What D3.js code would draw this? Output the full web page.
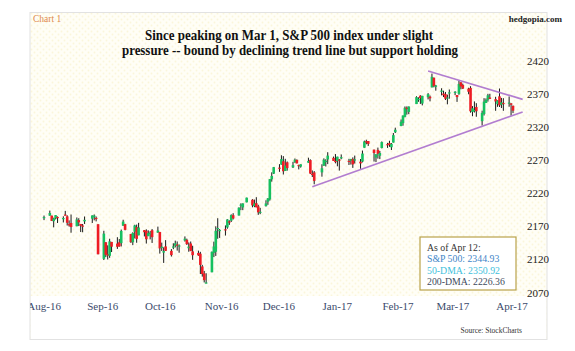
<!DOCTYPE html>
<html><head><meta charset="utf-8">
<script src="https://cdn.jsdelivr.net/npm/d3@7"></script>
<style>body{margin:0;background:#fff}svg{display:block}</style>
</head><body>
<script>
const dates = ["2016-08-12","2016-08-15","2016-08-16","2016-08-17","2016-08-18","2016-08-19","2016-08-22","2016-08-23","2016-08-24","2016-08-25","2016-08-26","2016-08-29","2016-08-30","2016-08-31",
"2016-09-01","2016-09-02","2016-09-06","2016-09-07","2016-09-08","2016-09-09","2016-09-12","2016-09-13","2016-09-14","2016-09-15","2016-09-16","2016-09-19","2016-09-20","2016-09-21","2016-09-22","2016-09-23","2016-09-26","2016-09-27","2016-09-28","2016-09-29","2016-09-30",
"2016-10-03","2016-10-04","2016-10-05","2016-10-06","2016-10-07","2016-10-10","2016-10-11","2016-10-12","2016-10-13","2016-10-14","2016-10-17","2016-10-18","2016-10-19","2016-10-20","2016-10-21","2016-10-24","2016-10-25","2016-10-26","2016-10-27","2016-10-28","2016-10-31",
"2016-11-01","2016-11-02","2016-11-03","2016-11-04","2016-11-07","2016-11-08","2016-11-09","2016-11-10","2016-11-11","2016-11-14","2016-11-15","2016-11-16","2016-11-17","2016-11-18","2016-11-21","2016-11-22","2016-11-23","2016-11-25","2016-11-28","2016-11-29","2016-11-30",
"2016-12-01","2016-12-02","2016-12-05","2016-12-06","2016-12-07","2016-12-08","2016-12-09","2016-12-12","2016-12-13","2016-12-14","2016-12-15","2016-12-16","2016-12-19","2016-12-20","2016-12-21","2016-12-22","2016-12-23","2016-12-27","2016-12-28","2016-12-29","2016-12-30",
"2017-01-03","2017-01-04","2017-01-05","2017-01-06","2017-01-09","2017-01-10","2017-01-11","2017-01-12","2017-01-13","2017-01-17","2017-01-18","2017-01-19","2017-01-20","2017-01-23","2017-01-24","2017-01-25","2017-01-26","2017-01-27","2017-01-30","2017-01-31",
"2017-02-01","2017-02-02","2017-02-03","2017-02-06","2017-02-07","2017-02-08","2017-02-09","2017-02-10","2017-02-13","2017-02-14","2017-02-15","2017-02-16","2017-02-17","2017-02-21","2017-02-22","2017-02-23","2017-02-24","2017-02-27","2017-02-28",
"2017-03-01","2017-03-02","2017-03-03","2017-03-06","2017-03-07","2017-03-08","2017-03-09","2017-03-10","2017-03-13","2017-03-14","2017-03-15","2017-03-16","2017-03-17","2017-03-20","2017-03-21","2017-03-22","2017-03-23","2017-03-24","2017-03-27","2017-03-28","2017-03-29","2017-03-30","2017-03-31",
"2017-04-03","2017-04-04","2017-04-05","2017-04-06","2017-04-07","2017-04-10","2017-04-11","2017-04-12"];
const open = [2183.7,2186.1,2186.2,2177.8,2181.9,2184.2,2181.6,2187.8,2185.1,2173.3,2175.1,2170.2,2179.5,2173.6,
2171.3,2177.5,2181.6,2185.2,2182.8,2173.2,2120.9,2146.0,2127.9,2125.4,2146.5,2144.0,2145.9,2144.6,2170.9,2173.3,2158.5,2146.0,2161.9,2168.9,2156.5,
2164.3,2163.4,2155.2,2158.2,2164.2,2160.4,2161.4,2137.7,2130.3,2139.7,2132.9,2138.3,2140.8,2142.5,2139.4,2148.5,2149.7,2137.0,2144.1,2132.2,2129.8,
2128.7,2109.4,2098.8,2083.8,2100.6,2129.9,2131.6,2167.5,2162.7,2165.6,2168.3,2177.5,2178.6,2186.9,2186.4,2201.6,2198.6,2206.3,2210.2,2200.8,2205.0,
2200.2,2191.1,2200.6,2207.3,2210.7,2241.1,2249.7,2258.8,2263.3,2268.4,2253.8,2266.8,2259.2,2266.5,2270.5,2262.9,2260.3,2266.2,2270.2,2249.5,2251.6,
2251.6,2261.6,2268.2,2271.1,2273.6,2269.0,2268.6,2271.1,2272.7,2269.1,2269.1,2271.9,2270.0,2267.8,2267.9,2288.9,2298.6,2299.0,2286.0,2274.0,
2285.6,2276.7,2288.5,2294.3,2295.9,2289.6,2296.7,2312.3,2321.7,2326.1,2335.6,2349.6,2343.0,2354.9,2361.1,2367.5,2355.7,2365.2,2366.1,
2380.1,2394.8,2380.9,2375.2,2370.7,2369.8,2363.5,2372.5,2371.6,2368.6,2370.3,2387.7,2383.7,2378.2,2379.3,2343.0,2346.0,2350.4,2329.1,2339.8,2356.5,2361.3,2364.8,
2362.3,2354.8,2366.6,2353.8,2356.6,2357.2,2356.0,2352.2];
const high = [2186.3,2193.8,2186.2,2183.1,2187.0,2185.0,2185.2,2193.4,2186.7,2179.0,2187.9,2183.5,2182.3,2173.6,
2173.6,2184.9,2186.6,2187.9,2184.9,2173.2,2163.3,2146.0,2141.3,2151.3,2146.5,2153.6,2150.8,2165.1,2180.0,2173.8,2158.5,2161.1,2172.4,2172.7,2175.3,
2164.4,2165.5,2164.0,2162.9,2165.9,2169.6,2161.6,2145.4,2138.2,2149.2,2135.6,2144.4,2148.4,2147.2,2142.6,2154.8,2151.4,2145.7,2147.1,2140.7,2133.3,
2131.5,2111.8,2102.6,2099.1,2132.0,2146.9,2170.1,2182.3,2165.9,2171.4,2180.8,2179.2,2188.1,2189.9,2198.7,2204.8,2204.7,2213.4,2211.1,2210.5,2214.1,
2202.6,2198.0,2209.4,2212.8,2241.6,2251.7,2259.8,2264.0,2277.5,2276.2,2272.1,2268.1,2267.5,2272.6,2271.2,2263.2,2263.8,2273.8,2271.3,2254.5,2253.6,
2263.9,2272.8,2271.5,2282.1,2275.5,2279.3,2275.3,2271.8,2278.7,2272.1,2272.0,2274.3,2277.0,2271.8,2284.6,2299.6,2301.0,2299.0,2286.0,2279.1,
2289.1,2284.0,2298.3,2296.2,2299.4,2295.9,2311.1,2319.2,2331.6,2337.6,2351.3,2351.3,2351.2,2366.7,2365.1,2368.3,2367.3,2371.5,2367.8,
2401.0,2394.8,2383.9,2378.8,2375.1,2373.1,2369.1,2376.9,2374.4,2368.6,2390.0,2388.1,2385.7,2379.6,2381.9,2351.8,2358.9,2356.2,2344.9,2363.8,2363.4,2370.4,2370.4,
2365.9,2360.5,2378.4,2364.2,2363.8,2366.4,2356.2,2352.7];
const low = [2179.4,2186.1,2178.1,2168.5,2180.5,2175.1,2175.9,2186.8,2171.3,2169.7,2160.4,2170.2,2170.4,2161.4,
2161.1,2173.6,2175.1,2179.1,2177.5,2127.8,2119.1,2123.6,2119.9,2122.4,2131.2,2135.9,2139.2,2139.6,2170.9,2164.0,2145.0,2141.6,2151.8,2145.2,2156.5,
2154.8,2144.0,2155.2,2150.3,2144.9,2160.4,2128.8,2132.8,2114.7,2133.0,2124.4,2135.5,2138.2,2133.4,2130.1,2146.9,2141.9,2131.6,2132.5,2119.4,2125.5,
2097.9,2094.0,2085.2,2083.8,2100.6,2123.6,2125.3,2151.2,2152.5,2156.1,2166.4,2172.2,2176.6,2180.4,2186.4,2194.5,2194.5,2206.3,2198.8,2199.0,2198.8,
2187.4,2188.4,2200.0,2202.5,2208.9,2237.6,2249.2,2252.4,2263.3,2248.4,2253.8,2254.2,2258.2,2266.2,2265.2,2256.1,2258.8,2266.2,2249.1,2244.6,2233.6,
2245.1,2261.6,2260.5,2264.1,2268.8,2265.3,2260.8,2254.3,2271.5,2262.8,2263.4,2258.4,2265.0,2257.0,2266.7,2288.9,2294.1,2291.6,2268.0,2267.2,
2272.4,2271.7,2287.9,2288.6,2290.2,2285.4,2296.6,2311.1,2321.4,2322.2,2334.8,2338.9,2339.6,2354.9,2358.3,2355.1,2352.9,2361.9,2359.0,
2380.1,2380.2,2375.1,2368.0,2365.5,2361.0,2354.5,2363.0,2368.5,2358.2,2368.9,2377.2,2377.6,2369.7,2341.9,2336.5,2342.1,2335.7,2322.3,2337.6,2356.5,2358.6,2362.6,
2344.7,2350.7,2350.5,2348.9,2344.7,2350.9,2337.3,2341.2];
const close = [2184.1,2190.2,2178.2,2182.2,2187.0,2183.9,2182.6,2186.9,2175.4,2172.5,2169.0,2180.4,2176.1,2170.9,
2170.9,2179.9,2186.5,2186.2,2181.3,2127.8,2159.0,2127.0,2125.8,2147.3,2139.2,2139.1,2139.8,2163.1,2177.2,2164.7,2146.1,2159.9,2171.4,2151.1,2168.3,
2161.2,2150.5,2159.7,2160.8,2153.7,2163.7,2136.7,2139.2,2132.6,2133.0,2126.5,2139.6,2144.3,2141.3,2141.2,2151.3,2143.2,2139.4,2133.0,2126.4,2126.2,
2111.7,2097.9,2088.7,2085.2,2131.5,2139.6,2163.3,2167.5,2164.5,2164.2,2180.4,2176.9,2187.1,2181.9,2198.2,2202.9,2204.7,2213.4,2201.7,2204.7,2198.8,
2191.1,2192.0,2204.7,2212.2,2241.4,2246.2,2259.5,2257.0,2271.7,2253.3,2262.0,2258.1,2262.5,2270.8,2265.2,2261.0,2263.8,2268.9,2249.9,2249.3,2238.8,
2257.8,2270.8,2269.0,2277.0,2268.9,2268.9,2275.3,2270.4,2274.6,2267.9,2271.9,2263.7,2271.3,2265.2,2280.1,2298.4,2296.7,2294.7,2280.9,2278.9,
2279.6,2280.9,2297.4,2292.6,2293.1,2294.7,2307.9,2316.1,2328.3,2337.6,2349.3,2347.2,2351.2,2365.4,2362.8,2363.8,2367.3,2369.8,2363.6,
2396.0,2381.9,2383.1,2375.3,2368.4,2363.0,2364.9,2372.6,2373.5,2365.5,2385.3,2381.4,2378.3,2373.5,2344.0,2348.5,2346.0,2344.0,2341.6,2358.6,2361.1,2368.1,2362.7,
2358.8,2360.2,2353.0,2357.5,2355.5,2357.2,2353.8,2344.9];

const yTicks = [2070,2120,2170,2220,2270,2320,2370,2420];
const supportLine = [["2016-12-29",2230],["2017-04-17",2343]];
const resistanceLine = [["2017-02-27",2405],["2017-04-17",2362]];
const legendLines = ["As of Apr 12:","S&P 500: 2344.93","50-DMA: 2350.92","200-DMA: 2226.36"];
const legendColors = ["#333333","#3f86c8","#3fbfdc","#3e4a5c"];

const W = 575, H = 351;
const parse = d3.timeParse("%Y-%m-%d");
const data = dates.map((d,i)=>({date:parse(d),o:open[i],h:high[i],l:low[i],c:close[i]}));

const svg = d3.select("body").append("svg").attr("width",W).attr("height",H)
  .style("font-family","'Liberation Serif','Times New Roman',serif");

const defs = svg.append("defs");
const pat = defs.append("pattern").attr("id","dots").attr("width",6).attr("height",6).attr("patternUnits","userSpaceOnUse");
pat.append("rect").attr("width",6).attr("height",6).attr("fill","#fffef6");
pat.append("circle").attr("cx",1.5).attr("cy",1.5).attr("r",0.9).attr("fill","#fbf6da");
pat.append("circle").attr("cx",4.5).attr("cy",4.5).attr("r",0.9).attr("fill","#fbf6da");
defs.append("clipPath").attr("id","xclip").append("rect").attr("x",30).attr("y",0).attr("width",520).attr("height",H);

// frame
svg.append("rect").attr("x",30).attr("y",12.5).attr("width",517).attr("height",327).attr("fill","url(#dots)").attr("stroke","#e2e2e2");
svg.append("rect").attr("x",31).attr("y",296).attr("width",515).attr("height",43).attr("fill","#fff");

const x = d3.scaleTime().domain([new Date(2016,7,1), new Date(2017,3,12)]).range([22.8, 513]);
const y = d3.scaleLinear().domain([2070,2420]).range([292.5,61]);

// header texts
svg.append("text").attr("x",33).attr("y",22).attr("fill","#e08a4c").attr("font-size",9.5).text("Chart 1");
svg.append("text").attr("x",562).attr("y",22).attr("text-anchor","end").attr("font-weight","bold").attr("font-size",9).attr("fill","#222").text("hedgopia.com");
svg.append("text").attr("x",289).attr("y",39.5).attr("text-anchor","middle").attr("font-weight","bold").attr("font-size",14)
  .attr("fill","#111").attr("textLength",288).attr("lengthAdjust","spacingAndGlyphs").text("Since peaking on Mar 1, S&P 500 index under slight");
svg.append("text").attr("x",290).attr("y",54.5).attr("text-anchor","middle").attr("font-weight","bold").attr("font-size",14)
  .attr("fill","#111").attr("textLength",336).attr("lengthAdjust","spacingAndGlyphs").text("pressure -- bound by declining trend line but support holding");

// y axis (right)
const yAxis = d3.axisRight(y).tickValues(yTicks).tickSize(0).tickFormat(d3.format("d"));
const gy = svg.append("g").attr("transform","translate(525,0)").call(yAxis);
gy.select(".domain").remove();
gy.selectAll("text").attr("font-size",11).attr("fill","#222").attr("x",2)
  .style("font-family","'Liberation Serif','Times New Roman',serif");

// x axis
const xAxis = d3.axisBottom(x).ticks(d3.timeMonth.every(1)).tickSize(0).tickFormat(d3.timeFormat("%b-%y"));
const gx = svg.append("g").attr("transform","translate(0,299)").attr("clip-path","url(#xclip)").call(xAxis);
gx.select(".domain").remove();
gx.selectAll("text").attr("font-size",11).attr("fill","#3b4a6b").attr("text-anchor","start").attr("dx",4)
  .style("font-family","'Liberation Serif','Times New Roman',serif");

// candles
const cg = svg.append("g");
cg.selectAll("line.wick").data(data).join("line").attr("class","wick")
  .attr("x1",d=>x(d.date)).attr("x2",d=>x(d.date)).attr("y1",d=>y(d.h)).attr("y2",d=>y(d.l))
  .attr("stroke","#1a1a1a").attr("stroke-width",1);
cg.selectAll("rect.body").data(data).join("rect").attr("class","body")
  .attr("x",d=>x(d.date)-1.3).attr("width",2.6)
  .attr("y",d=>y(Math.max(d.o,d.c))).attr("height",d=>Math.max(1.2,Math.abs(y(d.o)-y(d.c))))
  .attr("fill",d=>d.c>=d.o?"#16c060":"#ee1c24");

// trend lines
const line = d3.line().x(d=>x(parse(d[0]))).y(d=>y(d[1]));
[supportLine,resistanceLine].forEach(l=>{
  svg.append("path").attr("d",line(l)).attr("fill","none").attr("stroke","#b27dd0").attr("stroke-width",1.6);
});

// legend box
const lg = svg.append("g").attr("transform","translate(420,237)");
lg.append("rect").attr("width",96).attr("height",53).attr("fill","#fff").attr("stroke","#b9a24a").attr("stroke-width",1.2);
legendLines.forEach((t,i)=>{
  lg.append("text").attr("x",7).attr("y",14+i*11.3).attr("font-size",9.8).attr("fill",legendColors[i]).text(t);
});

svg.append("text").attr("x",522).attr("y",333).attr("text-anchor","end").attr("font-size",7.5).attr("fill","#333").text("Source: StockCharts");
</script>
</body></html>
